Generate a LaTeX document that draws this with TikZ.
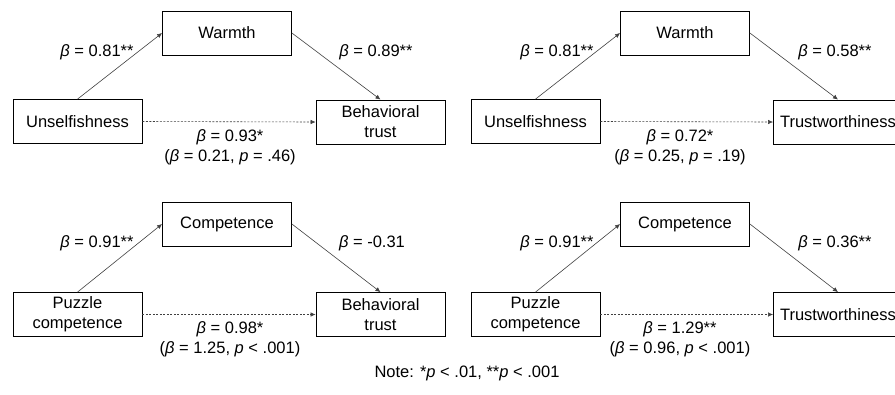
\documentclass[tikz,border=0pt]{standalone}
\usepackage{fontspec}
\setmainfont{Liberation Sans}
\usetikzlibrary{arrows.meta}
\newcommand\Bsym{\textit{β}}
\newcommand\Psym{\textit{p}}

\begin{document}
\begin{tikzpicture}[x=1bp,y=-1bp,
  font=\fontsize{16.5bp}{20bp}\selectfont,
  box/.style={draw, line width=0.8bp, minimum width=129bp, minimum height=44bp,
    align=center, inner sep=0pt},
  link/.style={draw=black!75, line width=0.6bp, -{Latex[length=5bp,width=4.5bp]}},
  direct/.style={link, dash pattern=on 2bp off 1.5bp},
  lbl/.style={align=center, inner sep=0pt}]

\useasboundingbox (0,0) rectangle (895,394);
\clip (0,0) rectangle (895,394);

% ---- Unselfishness -> Warmth -> Behavioral trust
\node[box] (w1) at (227,33) {Warmth};
\node[box] (u1) at (77.5,121.5) {Unselfishness};
\node[box] (b1) at (380.5,122) {Behavioral\\trust};
\draw[link] (u1.north) -- (w1.west);
\draw[link] (w1.east) -- (b1.north);
\draw[direct] (u1.east) -- (b1.west);
\node[lbl] (a1) at (97,52) {\Bsym\ = 0.81**};
\node[lbl] (c1) at (376,52) {\Bsym\ = 0.89**};
\node[lbl] (d1) at (230,147) {\Bsym\ = 0.93*\\(\Bsym\ = 0.21, \Psym\ = .46)};

% ---- Unselfishness -> Warmth -> Trustworthiness
\node[box] (w2) at (685,33) {Warmth};
\node[box] (u2) at (535.5,121.5) {Unselfishness};
\node[box] (t2) at (838,122) {Trustworthiness};
\draw[link] (u2.north) -- (w2.west);
\draw[link] (w2.east) -- (t2.north);
\draw[direct] (u2.east) -- (t2.west);
\node[lbl] (a2) at (557,52) {\Bsym\ = 0.81**};
\node[lbl] (c2) at (835,52) {\Bsym\ = 0.58**};
\node[lbl] (d2) at (680,147) {\Bsym\ = 0.72*\\(\Bsym\ = 0.25, \Psym\ = .19)};

% ---- Puzzle competence -> Competence -> Behavioral trust
\node[box] (k3) at (227,224) {Competence};
\node[box] (p3) at (77.5,314.5) {Puzzle\\competence};
\node[box] (b3) at (380.5,314.5) {Behavioral\\trust};
\draw[link] (p3.north) -- (k3.west);
\draw[link] (k3.east) -- (b3.north);
\draw[direct] (p3.east) -- (b3.west);
\node[lbl] (a3) at (97,243) {\Bsym\ = 0.91**};
\node[lbl] (c3) at (372,243) {\Bsym\ = -0.31};
\node[lbl] (d3) at (230,339) {\Bsym\ = 0.98*\\(\Bsym\ = 1.25, \Psym\ < .001)};

% ---- Puzzle competence -> Competence -> Trustworthiness
\node[box] (k4) at (685,224) {Competence};
\node[box] (p4) at (535.5,314.5) {Puzzle\\competence};
\node[box] (t4) at (838,314.5) {Trustworthiness};
\draw[link] (p4.north) -- (k4.west);
\draw[link] (k4.east) -- (t4.north);
\draw[direct] (p4.east) -- (t4.west);
\node[lbl] (a4) at (557,243) {\Bsym\ = 0.91**};
\node[lbl] (c4) at (835,243) {\Bsym\ = 0.36**};
\node[lbl] (d4) at (680,339) {\Bsym\ = 1.29**\\(\Bsym\ = 0.96, \Psym\ < .001)};

% ---- significance note
\node[lbl] (note) at (467,373) {Note: *\Psym\ < .01, **\Psym\ < .001};
\end{tikzpicture}
\end{document}
